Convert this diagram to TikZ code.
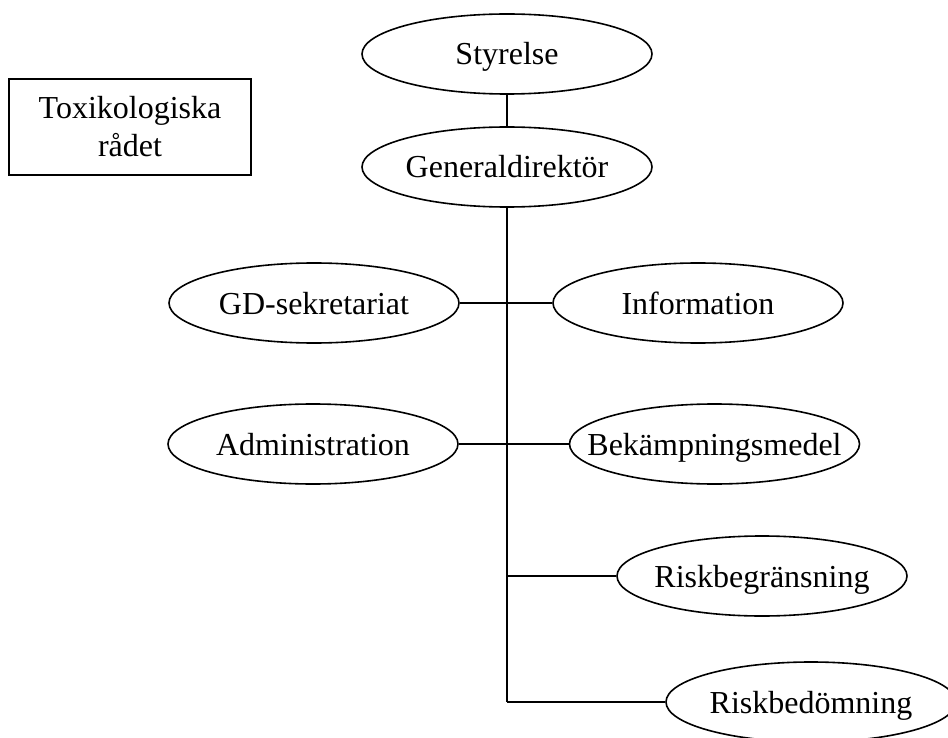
\documentclass[tikz,border=0pt]{standalone}
\usepackage{fontspec}
\setmainfont{Liberation Serif}
\usetikzlibrary{shapes.geometric}
\newcommand{\elltext}[1]{\makebox[0pt]{\rule[-7pt]{0pt}{36pt}#1}}
\begin{document}
\begin{tikzpicture}[x=1pt,y=-1pt, line width=1.6pt,
  ell/.style={draw, ellipse, inner sep=0pt, minimum width=290pt, minimum height=80pt,
    font=\fontsize{32}{38}\selectfont},
  boxnode/.style={draw, rectangle, inner sep=0pt, align=center,
    font=\fontsize{32}{38}\selectfont}]
\useasboundingbox (0,0) rectangle (948,738);
\node[ell] (sty) at (507,54) {\elltext{Styrelse}};
\node[ell] (gd) at (507,167) {\elltext{Generaldirektör}};
\node[boxnode, minimum width=242pt, minimum height=96pt] (tox) at (130,127) {Toxikologiska\\rådet};
\node[ell] (gds) at (314,303) {\elltext{GD-sekretariat}};
\node[ell] (inf) at (698,303) {\elltext{Information}};
\node[ell] (adm) at (313,444) {\elltext{Administration}};
\node[ell] (bek) at (714.5,444) {\elltext{Bekämpningsmedel}};
\node[ell] (rbeg) at (762,576) {\elltext{Riskbegränsning}};
\node[ell] (rbed) at (811,702) {\elltext{Riskbedömning}};
\coordinate (tEnd) at (507,702);
\coordinate (j1) at (507,576);
\draw (sty) -- (gd);
\draw (gd.south) -- (tEnd);
\draw (gds) -- (inf);
\draw (adm) -- (bek);
\draw (j1) -- (rbeg);
\draw (tEnd) -- (rbed);
\end{tikzpicture}
\end{document}
